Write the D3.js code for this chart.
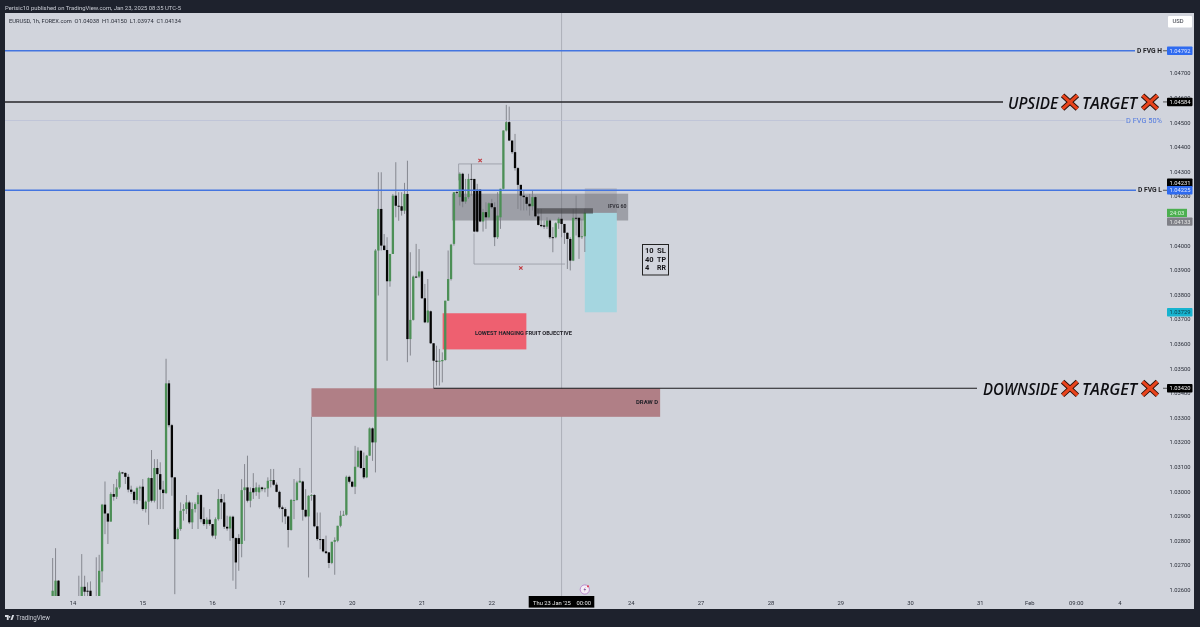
<!DOCTYPE html>
<html><head><meta charset="utf-8">
<script src="https://cdn.jsdelivr.net/npm/d3@7/dist/d3.min.js"></script>
<style>html,body{margin:0;padding:0;background:#1e222d;overflow:hidden}svg{display:block;filter:blur(.3px)}text{font-family:Roboto,sans-serif}</style>
</head><body><svg id="c" width="1200" height="627"></svg>
<script>
// Hourly candles in 1/100000 price units. The first entry is hour -7 from 14 Jan 00:00; null = below the visible pane.
const firstHour = -7;
const opens = [102560,102560,102638,null,null,null,null,null,null,102560,102560,102613,102597,102597,null,102560,102560,102676,102947,102911,
102878,102990,102979,103017,103078,103076,103060,103008,102999,102966,103014,103020,102929,102959,103055,102963,103096,103071,103008,102994,
103440,103270,103058,102807,102848,102922,102929,102956,102875,102929,102949,102986,102888,102868,102886,102868,102821,102888,102970,102956,
102857,102850,102898,102811,102811,102787,103006,103017,102963,103014,102999,102997,103017,103010,103013,103044,103047,103028,102999,102936,
102929,102899,102844,102963,102966,103037,103041,102926,102899,102983,102986,102859,102807,102807,102757,102753,102710,102796,102800,102861,
102902,102906,103060,103040,103020,103101,103166,103096,103058,103146,103257,103200,
103980,104149,104000,103982,103855,103966,104203,104162,104160,104142,104210,103620,103698,103874,103874,103895,103786,103688,103733,103603,103532,103528,103530,103535,103776,103864,
104007,104217,104197,104292,104179,104197,104271,104271,104227,104227,104098,104136,104115,104172,104156,104034,104115,104231,104468,104502,104427,104380,104315,104247,104203,104197,104170,104160,104197,104119,104084,104082,104077,104102,104034,104034,104091,104109,104088,104052,104027,103939,104113,104113,104034,104038];
const highs = [102730,102770,102640,null,null,null,null,null,null,102658,102746,102658,102631,102635,null,102733,102743,102950,103041,102911,
102997,103031,103051,103085,103080,103078,103071,103024,103004,103020,103024,103051,102963,103058,103169,103132,103132,103119,103044,103540,
103453,103275,103058,102854,102956,102949,102986,102963,102956,102956,102997,102990,102936,102895,102929,102868,102895,103010,102990,102990,
102902,102902,102902,102814,102827,103051,103112,103146,103017,103075,103037,103028,103020,103017,103058,103092,103092,103037,103004,102943,
102936,102902,102970,103051,103044,103096,103044,103010,102985,102990,102990,102915,102915,102807,102821,102753,102796,102814,102861,102922,
102922,103065,103065,103044,103186,103180,103169,103159,103149,103261,103261,103986,
104298,104298,104047,104034,103966,104210,104339,104217,104217,104255,104345,103973,103878,104007,103986,103898,103844,103864,103736,103603,103593,103580,103566,103776,103980,104007,
104217,104224,104298,104296,104271,104292,104332,104271,104251,104230,104149,104176,104176,104190,104176,104217,104231,104468,104572,104565,104427,104454,104319,104247,104224,104203,104210,104224,104203,104149,104149,104102,104115,104109,104075,104095,104115,104143,104088,104054,104034,104149,104203,104115,104109,104150];
const lows = [102560,102560,102560,null,null,null,null,null,null,102560,102560,102560,102560,102560,null,102560,102560,102631,102827,102787,
102878,102963,102970,103010,103071,103031,102997,102990,102952,102949,102963,102922,102915,102865,102956,102956,102929,102929,102929,102990,
103261,102983,102583,102805,102841,102882,102909,102868,102848,102915,102848,102875,102861,102848,102861,102814,102807,102882,102888,102848,
102841,102800,102638,102604,102678,102733,102800,102956,102936,102970,102983,102970,103001,102997,102979,103017,103024,102997,102929,102875,
102868,102773,102841,102888,102963,103037,102882,102895,102651,102963,102855,102800,102766,102753,102746,102689,102705,102662,102794,102855,
102902,102902,103033,103017,102990,103098,103092,103051,103055,103146,103125,103078,
103797,103980,103980,103532,103833,103966,104115,104101,104122,104129,103526,103553,103695,103868,103868,103783,103685,103685,103600,103420,103431,103431,103444,103532,103776,103858,
104000,104210,104163,104156,104170,104190,104203,104054,104054,104095,104057,104068,104111,104149,103998,104027,104068,104228,104464,104425,104373,104305,104149,104143,104143,104143,104122,104143,104115,104082,104075,104068,104068,104027,103973,104030,104068,104034,104007,103905,103899,103937,104041,103946,104027,103974];
const closes = [102597,102638,102560,null,null,null,null,null,null,102560,102613,102593,102593,102560,null,102560,102678,102947,102911,102878,
102990,102979,103017,103078,103074,103060,103008,102999,102966,103014,103017,102929,102959,103055,102963,103096,103071,103008,102994,103440,
103270,103058,102807,102848,102922,102929,102956,102875,102929,102949,102986,102888,102868,102886,102868,102821,102888,102970,102956,102857,
102850,102898,102811,102712,102787,103006,103017,102963,102999,102997,103017,103017,103010,103014,103044,103047,103028,102999,102936,102929,
102899,102844,102966,102966,103037,103044,102926,102899,102983,102986,102859,102807,102803,102757,102750,102710,102796,102803,102861,102902,
102906,103060,103040,103020,103101,103166,103096,103058,103146,103257,103200,103980,
104149,104000,103982,103855,103966,104203,104162,104160,104142,104210,103620,103698,103874,103870,103895,103786,103688,103736,103603,103532,103528,103532,103535,103776,103864,104004,
104217,104214,104292,104179,104197,104271,104268,104057,104057,104098,104136,104115,104172,104156,104034,104122,104231,104468,104502,104427,104380,104315,104247,104203,104197,104170,104160,104197,104119,104084,104079,104077,104102,104034,104031,104091,104109,104088,104052,104027,103939,104113,104110,104034,104038,104134];

const priceTicks = [1.047,1.046,1.045,1.044,1.043,1.042,1.041,1.04,1.039,1.038,1.037,1.036,1.035,1.034,1.033,1.032,1.031,1.03,1.029,1.028,1.027,1.026];
const timeHours = [0,24,48,72,96,120,144,192,216,240,264,288,312,329,345,360];
const timeLabels = ['14','15','16','17','20','21','22','24','27','28','29','30','31','Feb','09:00','4'];
const crosshairHour = 168;
const levelNames = ['D FVG H','D FVG 50%','D FVG L'];
const levelPrices = [1.04792,1.045085,1.04225];
const upsideTarget = 1.04584, downsideTarget = 1.0342, downsideStartHour = 124;
const tagPrices = [1.04792,1.04584,1.04231,1.04225,1.04133,1.03729,1.0342];
const tagColors = ['#2f6bf0','#000','#000','#2f6bf0','#7f8087','#16b3cf','#000'];
const tagInk = ['#dfe6ff','#eee','#eee','#dfe6ff','#e6e6e6','#0d3f4a','#eee'];
const tagShift = [0,0,-6,0,8.7,0,0];

const W=1200,H=627;
const x=d3.scaleLinear().domain([0,360]).range([73,1119.9]);
const y=d3.scaleLinear().domain([1.026,1.047]).range([590,73.4]);
const svg=d3.select('#c');
const bg='#d1d4dc', frame='#1e222d';
svg.append('rect').attr('width',W).attr('height',H).attr('fill',frame);
svg.append('rect').attr('x',5).attr('y',13).attr('width',1189).attr('height',596).attr('fill',bg);
svg.append('defs').append('clipPath').attr('id','pane').append('rect').attr('x',5).attr('y',13).attr('width',1162).attr('height',583);

function txt(g,s,px,py,size,fill,opt={}){
  const t=g.append('text').attr('x',px).attr('y',py).attr('font-size',size).attr('fill',fill).attr('dominant-baseline','central').text(s);
  if(opt.anchor)t.attr('text-anchor',opt.anchor);
  if(opt.weight)t.attr('font-weight',opt.weight);
  if(opt.len)t.attr('textLength',opt.len).attr('lengthAdjust','spacingAndGlyphs');
  if(opt.style)t.attr('font-style',opt.style);
  if(opt.family)t.style('font-family',opt.family);
  return t;
}
function box(g,h0,h1,p0,p1,fill,op){
  return g.append('rect').attr('x',x(h0)).attr('width',x(h1)-x(h0)).attr('y',y(p0)).attr('height',y(p1)-y(p0)).attr('fill',fill).attr('fill-opacity',op===undefined?1:op);
}

const pane=svg.append('g').attr('clip-path','url(#pane)');
// crosshair
pane.append('line').attr('x1',x(crosshairHour)).attr('x2',x(crosshairHour)).attr('y1',13).attr('y2',596).attr('stroke','#a4a7b0').attr('stroke-width',.8);
// zones under candles
box(pane,82,201.9,1.0342,1.03304,'#b07f86');
pane.append('line').attr('x1',x(82)).attr('x2',x(82)).attr('y1',y(1.03304)).attr('y2',y(1.02995)).attr('stroke','#85878f').attr('stroke-width',.8);
box(pane,127.1,155.9,1.03725,1.03578,'#ee6070');
box(pane,130.3,190.9,1.04211,1.04102,'#55555c',.42);
box(pane,176,187,1.04233,1.04133,'#77777e',.28);
box(pane,176,187,1.04133,1.03729,'#a5d6e0');
// brackets
const bracket=d3.line();
pane.append('path').attr('d',bracket([[x(132.6),y(1.04265)],[x(132.6),y(1.04332)],[x(147.5),y(1.04332)]])).attr('fill','none').attr('stroke','#9598a1').attr('stroke-width',.8);
pane.append('path').attr('d',bracket([[x(137.9),y(1.0405)],[x(137.9),y(1.03925)],[x(169.2),y(1.03925)]])).attr('fill','none').attr('stroke','#9598a1').attr('stroke-width',.8);
[[140,1.04346],[154,1.03909]].forEach(([h,p])=>{
  const cx=x(h),cy=y(p);
  pane.append('path').attr('d',`M${cx-1.7},${cy-1.7}L${cx+1.7},${cy+1.7}M${cx+1.7},${cy-1.7}L${cx-1.7},${cy+1.7}`).attr('stroke','#c03a3f').attr('stroke-width',1.1);
});
// candles
const bars=opens.map((o,k)=>({h:firstHour+k,o,hi:highs[k],lo:lows[k],c:closes[k]})).filter(d=>d.o!==null);
const candles=pane.append('g');
candles.selectAll('line').data(bars).join('line')
 .attr('x1',d=>x(d.h)).attr('x2',d=>x(d.h)).attr('y1',d=>y(d.hi/1e5)).attr('y2',d=>y(d.lo/1e5)).attr('stroke','#7d7f87').attr('stroke-width',.9);
candles.selectAll('rect').data(bars).join('rect')
 .attr('x',d=>x(d.h)-1.15).attr('width',2.3)
 .attr('y',d=>y(Math.max(d.o,d.c)/1e5)).attr('height',d=>Math.max(.9,Math.abs(y(d.o/1e5)-y(d.c/1e5))))
 .attr('fill',d=>d.c>=d.o?'#4c8f56':'#050505');
box(pane,159.2,178.8,1.04152,1.0413,'#3a3a3e',.62);

// levels
const lineEnds=[1135,1125,1136], lineW=[1.4,.7,1.4], lineC=['#4475e0','#b9bed6','#4475e0'];
levelPrices.forEach((p,k)=>{
  svg.append('line').attr('x1',5).attr('x2',lineEnds[k]).attr('y1',y(p)).attr('y2',y(p)).attr('stroke',lineC[k]).attr('stroke-width',lineW[k]);
});
svg.append('line').attr('x1',5).attr('x2',1003).attr('y1',y(upsideTarget)).attr('y2',y(upsideTarget)).attr('stroke','#26262a').attr('stroke-width',1.6);
svg.append('line').attr('x1',x(downsideStartHour)).attr('x2',977).attr('y1',y(downsideTarget)).attr('y2',y(downsideTarget)).attr('stroke','#1a1a1c').attr('stroke-width',1.1);
[upsideTarget,downsideTarget,levelPrices[0],levelPrices[2]].forEach(p=>svg.append('line').attr('x1',1163).attr('x2',1167).attr('y1',y(p)).attr('y2',y(p)).attr('stroke','#333').attr('stroke-width',.8));

// text annotations
txt(svg,levelNames[0],1137,y(levelPrices[0]),6.6,'#1e1e22',{weight:700,len:25});
txt(svg,levelNames[2],1138,y(levelPrices[2]),6.6,'#1e1e22',{weight:700,len:24});
txt(svg,levelNames[1],1126,y(levelPrices[1])+.2,7.6,'#4f78e0',{len:36});
txt(svg,'IFVG 60',608,206,5.3,'#33333a',{weight:700,len:18.5});
txt(svg,'LOWEST HANGING FRUIT OBJECTIVE',475,332.7,5.4,'#23232a',{weight:700,len:97});
txt(svg,'DRAW D',636,402,5.4,'#23232a',{weight:700,len:22});
// trade box
svg.append('rect').attr('x',642.5).attr('y',244.5).attr('width',26).attr('height',30.5).attr('fill','none').attr('stroke','#222').attr('stroke-width',1);
[['10 ','SL',250.7],['40 ','TP',259.3],['4 ','RR',267.9]].forEach(([a,b,py])=>{
  txt(svg,a.trim(),645,py,7.1,'#16161a',{weight:700,len:a.trim().length*4.3});
  txt(svg,b,657,py,7.1,'#16161a',{weight:700,len:9});
});
// big target captions
function cross(cx,cy){
  const p=`M${cx-7.4},${cy-6.8}Q${cx-1},${cy-1} ${cx+7.4},${cy+6.8}M${cx+7.4},${cy-6.8}Q${cx},${cy} ${cx-7.4},${cy+6.8}`;
  svg.append('path').attr('d',p).attr('fill','none').attr('stroke','#2a1008').attr('stroke-width',5);
  svg.append('path').attr('d',p).attr('fill','none').attr('stroke','#e8431c').attr('stroke-width',3.2);
}
[['UPSIDE',1008,50,upsideTarget],['DOWNSIDE',983,75,downsideTarget]].forEach(([s,px,len,p])=>{
  const cy=y(p)+.2;
  txt(svg,s,px,cy,16.5,'#0e0e12',{style:'italic',weight:600,len,family:'"Open Sans"'});
  cross(1070,cy);
  txt(svg,'TARGET',1082,cy,16.5,'#0e0e12',{style:'italic',weight:600,len:55,family:'"Open Sans"'});
  cross(1150,cy);
});

// axes
const axis=svg.append('g');
axis.selectAll('text.p').data(priceTicks).join('text').attr('class','p').attr('x',1190.5).attr('y',d=>y(d)).attr('text-anchor','end').attr('dominant-baseline','central').attr('font-size',5.8).attr('fill','#2a2e39').text(d=>d.toFixed(5));
axis.selectAll('text.t').data(timeHours).join('text').attr('class','t').attr('x',d=>x(d)).attr('y',603).attr('text-anchor','middle').attr('dominant-baseline','central').attr('font-size',5.8).attr('fill','#2a2e39').text((d,k)=>timeLabels[k]);
// price tags
tagPrices.forEach((p,k)=>{
  const cy=y(p)+tagShift[k];
  svg.append('rect').attr('x',1167).attr('y',cy-4.2).attr('width',25.5).attr('height',8.4).attr('rx',.8).attr('fill',tagColors[k]);
  txt(svg,p.toFixed(5),1190.5,cy,5.8,tagInk[k],{anchor:'end'});
});
svg.append('rect').attr('x',1167).attr('y',208.8).attr('width',20).attr('height',8.2).attr('fill','#4caf50');
txt(svg,'24:03',1177,213,5.8,'#dff5e0',{anchor:'middle'});
svg.append('rect').attr('x',1168).attr('y',16).attr('width',24).attr('height',11.5).attr('rx',1).attr('fill','#fff');
txt(svg,'USD',1178,21.4,5.8,'#2a2e39',{anchor:'middle'});
// crosshair time tag
svg.append('rect').attr('x',528.7).attr('y',596).attr('width',65.6).attr('height',11.6).attr('fill','#000');
txt(svg,"Thu 23 Jan '25",533,602.6,5.8,'#e8e8e8');
txt(svg,'00:00',576.5,602.6,5.8,'#e8e8e8');
// flash icon
const fx=x(176),fy=589.5;
svg.append('circle').attr('cx',fx).attr('cy',fy).attr('r',4.6).attr('fill','#f4eef6').attr('stroke','#b479c9').attr('stroke-width',.8);
svg.append('path').attr('d',`M${fx+.8},${fy-2.6}L${fx-1.4},${fy+.4}L${fx},${fy+.4}L${fx-.8},${fy+2.6}L${fx+1.4},${fy-.5}L${fx},${fy-.5}Z`).attr('fill','#8a5aa0');
svg.append('circle').attr('cx',fx+3.2).attr('cy',fy-3.2).attr('r',1.1).attr('fill','#e0405a');
// header and footer
txt(svg,'Perisic10 published on TradingView.com, Jan 23, 2025 08:35 UTC-5',5,7,6,'#c9ccd4',{len:176});
txt(svg,'EURUSD, 1h, FOREX.com  O1.04038  H1.04150  L1.03974  C1.04134',9,20.7,6,'#2a2e39',{len:172}).style('white-space','pre');
svg.append('path').attr('transform','translate(5,615) scale(.7,.8)').attr('d','M0,0H5.2V6.4H2.6V2.6H0ZM6.6,1.3a1.1,1.1 0 1,0 .01,0ZM7.8,6.4L10.3,0H13.1L10.5,6.4Z').attr('fill','#d8dbe2');
txt(svg,'TradingView',16,618.2,7,'#c9ccd4',{len:34});
</script></body></html>
